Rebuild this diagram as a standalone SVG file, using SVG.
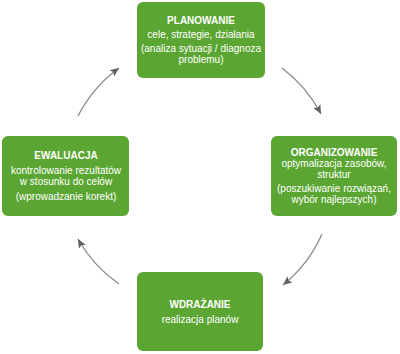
<svg xmlns="http://www.w3.org/2000/svg" width="400" height="354" viewBox="0 0 400 354">
<style>
.box{fill:#5ba632;}
.t{font-family:"Liberation Sans",Arial,sans-serif;font-size:10px;fill:#ffffff;text-anchor:middle;}
.b{font-weight:bold;}
.arc{fill:none;stroke:#8a8a8a;stroke-width:1.3;marker-end:url(#ah);}
</style>
<defs>
<marker id="ah" markerWidth="10" markerHeight="8" refX="9" refY="4" orient="auto" markerUnits="userSpaceOnUse">
<path d="M0,0 L9,4 L0,8 L2,4 Z" fill="#5e5e5e"/>
</marker>
</defs>
<rect width="400" height="354" fill="#ffffff"/>
<g id="connectors">
<path class="arc" d="M282,68 A136,136 0 0 1 321,114"/>
<path class="arc" d="M322,234 A136,136 0 0 1 283,285"/>
<path class="arc" d="M119,284 A136,136 0 0 1 78,239"/>
<path class="arc" d="M78,116 A136,136 0 0 1 119,68"/>
</g>
<g id="planowanie">
<rect class="box" x="137" y="2" width="128" height="76" rx="6"/>
<text class="t b" x="201" y="24">PLANOWANIE</text>
<text class="t" x="201" y="38">cele, strategie, działania</text>
<text class="t" x="201" y="52">(analiza sytuacji / diagnoza</text>
<text class="t" x="201" y="63">problemu)</text>
</g>
<g id="organizowanie">
<rect class="box" x="271" y="136" width="126" height="80" rx="6"/>
<text class="t b" x="334" y="156">ORGANIZOWANIE</text>
<text class="t" x="334" y="167">optymalizacja zasobów,</text>
<text class="t" x="334" y="178">struktur</text>
<text class="t" x="334" y="192">(poszukiwanie rozwiązań,</text>
<text class="t" x="334" y="203">wybór najlepszych)</text>
</g>
<g id="ewaluacja">
<rect class="box" x="2" y="136" width="127" height="80" rx="6"/>
<text class="t b" x="66" y="159">EWALUACJA</text>
<text class="t" x="66" y="174">kontrolowanie rezultatów</text>
<text class="t" x="66" y="185">w stosunku do celów</text>
<text class="t" x="66" y="200">(wprowadzanie korekt)</text>
</g>
<g id="wdrazanie">
<rect class="box" x="137" y="272" width="126" height="79" rx="6"/>
<text class="t b" x="200" y="308">WDRAŻANIE</text>
<text class="t" x="200" y="323">realizacja planów</text>
</g>
</svg>
